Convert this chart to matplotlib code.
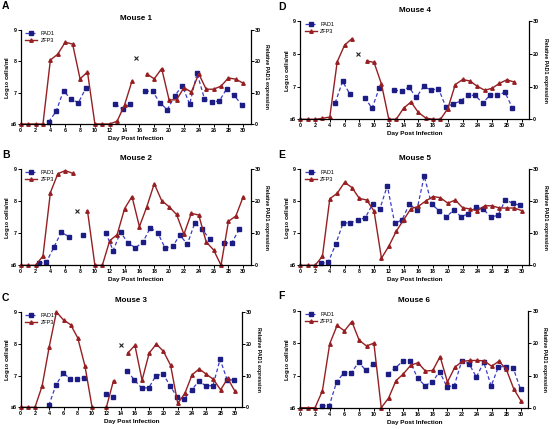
import numpy as np
import matplotlib
matplotlib.use("Agg")
import matplotlib.pyplot as plt
import matplotlib.transforms as mtransforms

plt.rcParams['font.family'] = ['Liberation Sans', 'DejaVu Sans']

N = None
days = list(range(0, 31))

# ZFP3 (left axis, log10 cells/ml)
zfp3_m1 = [6, 6, 6, 6, 8.04, 8.23, 8.61, 8.55, 7.44, 7.66, 6, 6, 6, 6.09, 6.61, 7.37, N,
           7.6, 7.44, 7.77, 6.77, 6.77, 7.16, 7.02, 7.6, 7.11, 7.11, 7.21, 7.47, 7.43, 7.30]
zfp3_m2 = [6, 6, 6, 6.29, 8.27, 8.86, 8.96, 8.875, N, 7.71, 6, 6, 6.77, 6.96, 7.77, 8.15, 7.21,
           7.83, 8.55, 8.02, 7.83, 7.59, 6.97, 7.625, 7.57, 6.73, 6.48, 6, 7.375, 7.54, 8.15]
zfp3_m3 = [6, 6, 6, 6.67, 7.91, 9.0, 8.75, 8.60, 8.18, 7.30, 6, N, 6, 6.84, N, 7.71, 7.95,
           6.85, 7.71, 7.99, 7.76, 7.32, 6.12, 6.44, 7.02, 7.21, 7.04, 6.88, 6.55, 6.91, 6.51]
zfp3_m4 = [6, 6, 6, 6.03, 6.07, 7.76, 8.27, 8.47, N, 7.79, 7.74, 7.08, 6, 6, 6.34, 6.53, 6.21,
           6.04, 6.0, 6, 6.33, 7.06, 7.22, 7.17, 7.01, 6.89, 6.95, 7.10, 7.21, 7.14, N]
zfp3_m5 = [6, 6, 6, 6.28, 8.08, 8.25, 8.59, 8.43, 8.09, 8.04, 7.69, 6.22, 6.60, 7.06, 7.42, 7.77,
           7.84, 8.01, 8.15, 8.11, 7.94, 8.04, 7.80, 7.76, 7.70, 7.86, 7.86, 7.79, 7.79, 7.79, 7.71]
zfp3_m6 = [6, 6, 6, 6.52, 7.99, 8.56, 8.39, 8.68, 8.10, 7.92, 8.01, 6, 6.30, 6.84, 7.05, 7.32,
           7.40, 7.14, 7.16, 7.59, 6.80, 7.26, 7.44, 7.47, 7.47, 7.46, 7.29, 7.45, 7.19, 6.59, 6.21]

# PAD1 (right axis, relative expression)
pad1_m1 = [N, N, N, N, 0.7, 4.0, 10.6, 7.9, 6.8, 11.4, N, N, N, 6.3, 4.7, 6.5, N,
           10.4, 10.5, 6.7, 4.6, 9.0, 12.2, 6.3, 16.2, 8.0, 7.1, 7.3, 11.3, 9.1, 6.2]
pad1_m2 = [N, N, N, 0.6, 1.0, 5.6, 10.3, 9.0, N, 9.4, N, N, 10.2, 4.6, 10.4, 6.9, 5.5,
           7.2, 11.7, 10.2, 5.4, 5.9, 9.4, 6.6, 13.2, 11.25, 8.2, N, 6.9, 7.1, 11.25]
pad1_m3 = [N, N, N, N, 0.6, 6.9, 10.8, 9.0, 9.0, 9.2, N, N, 4.2, 3.1, N, 11.4, 8.6,
           6.1, 6.1, 9.9, 10.5, 6.8, 3.1, 2.7, 5.4, 8.2, 6.8, 6.8, 15.1, 8.6, 8.6]
pad1_m4 = [N, N, N, N, N, 5.0, 11.6, 7.7, N, 6.6, 3.4, 9.7, N, 8.9, 8.7, 9.8, 6.7,
           10.1, 8.9, 9.4, 3.8, 4.7, 5.6, 7.4, 7.3, 4.9, 7.5, 7.3, 8.3, 3.6, N]
pad1_m5 = [N, N, N, 0.6, 1.0, 6.6, 13.2, 13.3, 14.2, 14.8, 19.1, 17.7, 24.9, 13.1, 14.2, 19.2,
           17.2, 27.9, 19.1, 17.1, 15.2, 17.2, 15.2, 16.1, 18.2, 17.6, 15.1, 15.6, 20.4, 19.4, 18.75]
pad1_m6 = [N, N, N, 0.6, 0.6, 8.0, 10.9, 10.9, 14.1, 11.6, 13.6, N, 10.4, 12.4, 14.5, 14.4,
           9.2, 6.9, 8.0, 11.2, 6.5, 6.9, 14.5, 13.7, 9.5, 14.2, 6.75, 12.7, 12.8, 12.4, 5.7]

# isolated "x" points (day, log10 cells/ml)
x_m1 = (15.6, 8.1)
x_m2 = (7.6, 7.71)
x_m3 = (14.0, 7.95)
x_m4 = (7.8, 7.99)

letters = ['A', 'B', 'C', 'D', 'E', 'F']
titles = ['Mouse 1', 'Mouse 2', 'Mouse 3', 'Mouse 4', 'Mouse 5', 'Mouse 6']
zfp3_all = [zfp3_m1, zfp3_m2, zfp3_m3, zfp3_m4, zfp3_m5, zfp3_m6]
pad1_all = [pad1_m1, pad1_m2, pad1_m3, pad1_m4, pad1_m5, pad1_m6]
x_all = [x_m1, x_m2, x_m3, x_m4, None, None]

xticks = list(range(0, 31, 2))
left_ticks = [6, 7, 8, 9]
left_labels = ['≤6', '7', '8', '9']
right_ticks = [0, 10, 20, 30]

W, H = 556, 429
# pixel boxes: x0, x1, ytop, ybot
boxes = [(20.7, 250.7, 30, 124),
         (20.7, 250.7, 169.3, 265.3),
         (20.7, 242.0, 312, 407.3),
         (300.3, 529.0, 21.3, 119.3),
         (300.3, 529.0, 169.3, 265.3),
         (300.3, 528.4, 311.3, 407.7)]
letter_pos = [(2, 6), (2, 155), (2, 298), (278, 7), (278, 155), (278, 296)]
ylabel_px = [7.5, 7.5, 7.5, 287, 287, 287]
pad_shift = [-1.7, -4.0, -0.5, -2.0, -1.5, -0.5]

RED = '#951f22'
NAVY = '#1c1c85'
BLUE_LINE = '#3c3cc8'

fig = plt.figure(figsize=(W / 100, H / 100), dpi=100)

def to_arr(v):
    return np.array([np.nan if a is None else a for a in v], dtype=float)

for i in range(6):
    x0, x1, yt, yb = boxes[i]
    ax = fig.add_axes([x0 / W, 1 - yb / H, (x1 - x0) / W, (yb - yt) / H])
    ax2 = ax.twinx()
    ax.set_zorder(ax2.get_zorder() + 1)
    ax.patch.set_visible(False)

    z = to_arr(zfp3_all[i])
    p = to_arr(pad1_all[i])
    off = mtransforms.offset_copy(ax2.transData, fig=fig, x=pad_shift[i], y=0, units='dots')
    lp, = ax2.plot(days, p, linestyle=(0, (3, 2)), color=BLUE_LINE, lw=0.9,
                   marker='s', ms=3.0, mfc=NAVY, mec=NAVY, transform=off, clip_on=False)
    lz, = ax.plot(days, z, '-', color=RED, lw=1.0, marker='^', ms=2.5,
                  mfc=RED, mec=RED, clip_on=False)
    if x_all[i] is not None:
        ax.plot([x_all[i][0]], [x_all[i][1]], 'x', color='#222222', ms=2.8, mew=0.8)

    ax.set_xlim(0, 31)
    ax.set_ylim(6, 9)
    ax2.set_ylim(0, 30)
    ax.set_xticks(xticks)
    ax.set_xticklabels([str(t) for t in xticks], fontsize=3.9, fontweight='bold')
    ax.set_yticks(left_ticks)
    ax.set_yticklabels(left_labels, fontsize=3.9, fontweight='bold')
    ax2.set_yticks(right_ticks)
    ax2.set_yticklabels([str(t) for t in right_ticks], fontsize=3.9, fontweight='bold')
    for a in (ax, ax2):
        a.tick_params(length=2, width=0.7, pad=1.0, direction='out')
        for s in a.spines.values():
            s.set_linewidth(0.9)
        a.spines['top'].set_visible(False)
    ax.spines['right'].set_visible(False)
    ax2.spines['left'].set_visible(False)
    ax2.spines['bottom'].set_visible(False)

    ax.set_xlabel('Day Post Infection', fontsize=4.6, fontweight='bold', labelpad=2)
    ax.set_ylabel('Log$_{\\mathbf{10}}$ cells/ml', fontsize=4.4, fontweight='bold',
                  va='center')
    ax.yaxis.set_label_coords((ylabel_px[i] - x0) / (x1 - x0), 0.5)
    ax2.set_ylabel('Relative PAD1 expression', fontsize=3.8, fontweight='bold',
                   rotation=270, labelpad=6)
    ax.set_title(titles[i], fontsize=5.8, fontweight='bold', pad=7)
    lx, ly = letter_pos[i]
    fig.text(lx / W, 1 - ly / H, letters[i], fontsize=7.5,
             fontweight='bold', va='center', ha='left')

    ax.legend([lp, lz], ['PAD1', 'ZFP3'], loc='upper left', bbox_to_anchor=(0.0, 1.04),
              frameon=False, fontsize=4.0, handlelength=2.2, handletextpad=0.6,
              labelspacing=0.4, borderpad=0.3, markerscale=1.0)

fig.savefig('out.png', dpi=100)
